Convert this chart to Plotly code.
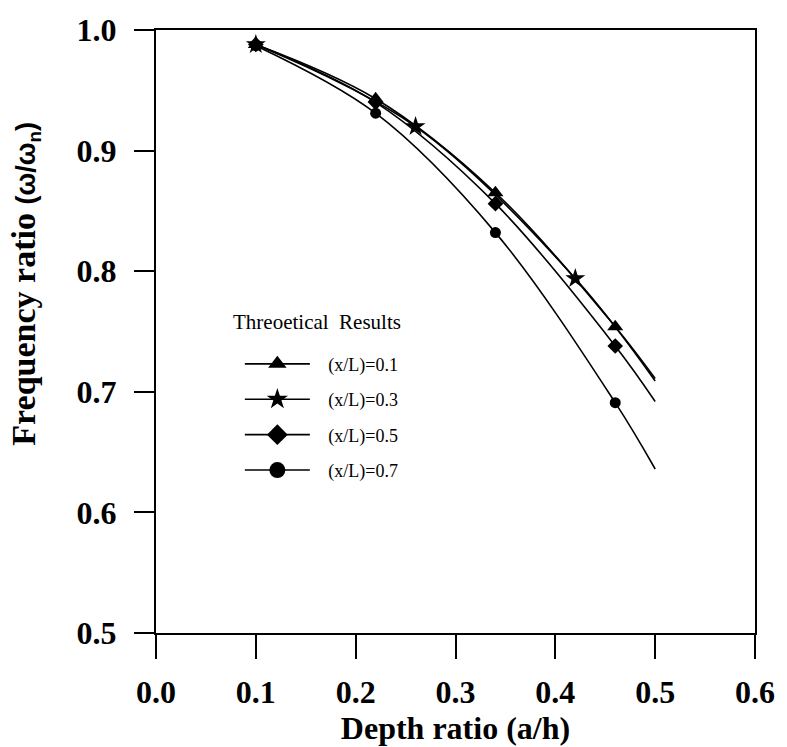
import plotly.graph_objects as go

# ---- data ----
series_names = ["(x/L)=0.1", "(x/L)=0.3", "(x/L)=0.5", "(x/L)=0.7"]
series_symbols = ["triangle-up", "star", "diamond", "circle"]
legend_heading = "Threoetical  Results"

# smooth theoretical curves
tri_line_x = [0.10, 0.22, 0.34, 0.46, 0.50]
tri_line_y = [0.988, 0.943, 0.865, 0.754, 0.711]
star_line_x = [0.10, 0.26, 0.42, 0.50]
star_line_y = [0.988, 0.920, 0.794, 0.709]
dia_line_x = [0.10, 0.22, 0.34, 0.46, 0.50]
dia_line_y = [0.988, 0.940, 0.856, 0.738, 0.692]
cir_line_x = [0.10, 0.22, 0.34, 0.46, 0.50]
cir_line_y = [0.987, 0.931, 0.832, 0.691, 0.636]

# marker positions
tri_mark_x = [0.10, 0.22, 0.34, 0.46]
tri_mark_y = [0.988, 0.943, 0.865, 0.754]
star_mark_x = [0.10, 0.26, 0.42]
star_mark_y = [0.988, 0.920, 0.794]
dia_mark_x = [0.10, 0.22, 0.34, 0.46]
dia_mark_y = [0.988, 0.940, 0.856, 0.738]
cir_mark_x = [0.10, 0.22, 0.34, 0.46]
cir_mark_y = [0.987, 0.931, 0.832, 0.691]

x_ticks = [0.0, 0.1, 0.2, 0.3, 0.4, 0.5, 0.6]
y_ticks = [0.5, 0.6, 0.7, 0.8, 0.9, 1.0]

lines = [(tri_line_x, tri_line_y), (star_line_x, star_line_y),
         (dia_line_x, dia_line_y), (cir_line_x, cir_line_y)]
marks = [(tri_mark_x, tri_mark_y), (star_mark_x, star_mark_y),
         (dia_mark_x, dia_mark_y), (cir_mark_x, cir_mark_y)]
mark_sizes = [14, 15, 12, 11]
legend_sizes = [16, 16, 16, 16]

SERIF = "Liberation Serif"
PAD = "\u00a0" * 3

fig = go.Figure()
for i, name in enumerate(series_names):
    lx, ly = lines[i]
    mx, my = marks[i]
    fig.add_trace(go.Scatter(x=lx, y=ly, mode="lines", line=dict(color="black", width=1.6, shape="spline"),
                             showlegend=False, hoverinfo="skip"))
    fig.add_trace(go.Scatter(x=mx, y=my, mode="markers",
                             marker=dict(symbol=series_symbols[i], size=mark_sizes[i], color="black"),
                             showlegend=False))
    fig.add_trace(go.Scatter(x=[None], y=[None], mode="lines+markers", name=PAD + name,
                             legendgroup=name,
                             line=dict(color="black", width=1.6),
                             marker=dict(symbol=series_symbols[i], size=legend_sizes[i], color="black")))

axis_common = dict(
    showline=True, linecolor="black", linewidth=2, mirror=True,
    ticks="outside", tickcolor="black", tickwidth=2,
    showgrid=False, zeroline=False,
    tickfont=dict(family=SERIF, size=32, color="black", weight="bold"),
    tickformat=".1f",
)

fig.update_xaxes(range=[0, 0.6], tickvals=x_ticks, ticklen=24, ticklabelstandoff=6,
                 title=dict(text="<b>Depth ratio (a/h)</b>", font=dict(family=SERIF, size=32, color="black"),
                            standoff=2),
                 **axis_common)
fig.update_yaxes(range=[0.5, 1.0], tickvals=y_ticks, ticklen=20, ticklabelstandoff=11,
                 **axis_common)

fig.add_annotation(
    text="<b>Frequency ratio</b> <span style='font-family:Liberation Sans;font-size:27px'><b>(ω/ω<sub>n</sub>)</b></span>",
    xref="paper", yref="paper", x=-0.218, y=0.58, xanchor="center", yanchor="middle",
    textangle=-90, showarrow=False, font=dict(family=SERIF, size=34, color="black"))

fig.add_annotation(
    text=legend_heading, xref="paper", yref="paper", x=0.1248, y=0.5155,
    xanchor="left", yanchor="middle", showarrow=False,
    font=dict(family=SERIF, size=21, color="black"))

fig.update_layout(
    width=787, height=747,
    margin=dict(l=156, r=22, t=24, b=112),
    plot_bgcolor="white", paper_bgcolor="white",
    font=dict(family=SERIF, color="black"),
    showlegend=True,
    legend=dict(
        x=0.14, y=0.4765, xanchor="left", yanchor="top",
        bgcolor="rgba(0,0,0,0)", borderwidth=0,
        font=dict(family=SERIF, size=18, color="black"),
        itemwidth=65, tracegroupgap=9, traceorder="grouped",
    ),
)

fig.write_html("out.html", config={"displayModeBar": False},
               post_script="document.body.style.margin='0px';")
